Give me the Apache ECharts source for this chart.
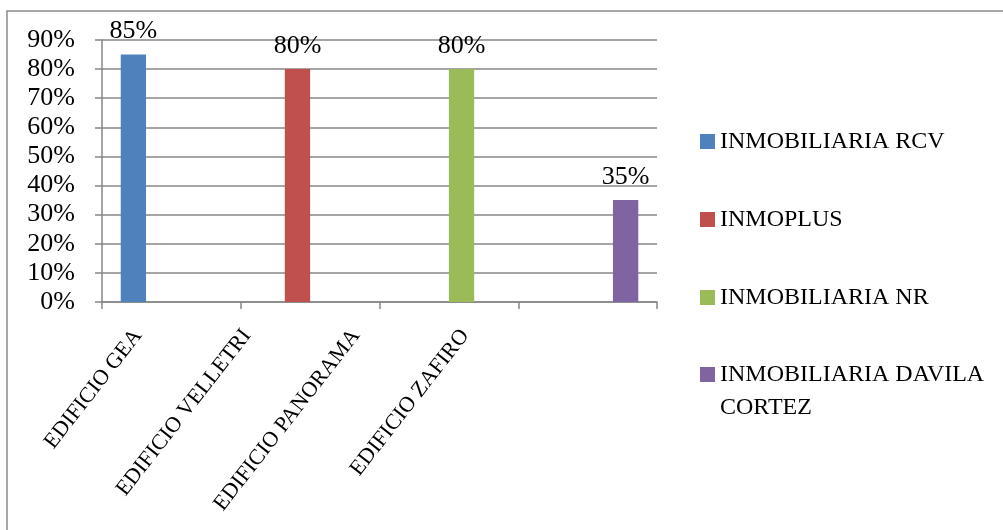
<!DOCTYPE html>
<html>
<head>
<meta charset="utf-8">
<script src="https://cdn.jsdelivr.net/npm/echarts@6/dist/echarts.min.js"></script>
<style>
  html, body { margin: 0; padding: 0; background: #fff; }
  #chart { width: 1003px; height: 530px; }
</style>
</head>
<body>
<div id="chart"></div>
<script>
// Buildings on the horizontal axis
const categories = ['EDIFICIO GEA', 'EDIFICIO VELLETRI', 'EDIFICIO PANORAMA', 'EDIFICIO ZAFIRO'];

// One series per real-estate agency (percent), each present at one building
const seriesNames = ['INMOBILIARIA RCV', 'INMOPLUS', 'INMOBILIARIA NR', 'INMOBILIARIA DAVILA CORTEZ'];
const rcvValues      = [85, null, null, null];
const inmoplusValues = [null, 80, null, null];
const nrValues       = [null, null, 80, null];
const davilaValues   = [null, null, null, 35];

// Value axis ticks (percent)
const yMin = 0;
const yMax = 90;
const yStep = 10;

const seriesValues = [rcvValues, inmoplusValues, nrValues, davilaValues];
const colors = ['#4F81BD', '#C0504D', '#9BBB59', '#8064A2'];
const FONT = 'Liberation Serif';
const GRID_COLOR = '#878787';

const chart = echarts.init(document.getElementById('chart'), null, { renderer: 'canvas' });

const legendText = {
  fontFamily: FONT,
  fontSize: 24,
  color: '#000',
  lineHeight: 33,
  width: 275,
  overflow: 'break'
};

const option = {
  backgroundColor: '#ffffff',
  animation: false,
  color: colors,
  textStyle: { fontFamily: FONT, color: '#000' },
  graphic: [{
    type: 'rect',
    silent: true,
    z: -10,
    shape: { x: 7, y: 11, width: 1200, height: 700 },
    style: { fill: 'none', stroke: '#8a8a8a', lineWidth: 1.5 }
  }],
  legend: [
    {
      // single-line entries
      orient: 'vertical',
      left: 700,
      top: 125,
      padding: 0,
      itemGap: 45,
      itemWidth: 15,
      itemHeight: 15,
      icon: 'rect',
      selectedMode: false,
      textStyle: legendText,
      data: seriesNames.slice(0, 3)
    },
    {
      // wrapped entry: first line level with the swatch
      orient: 'vertical',
      left: 700,
      top: 325,
      padding: 0,
      itemWidth: 15,
      itemHeight: 15,
      icon: 'rect',
      selectedMode: false,
      textStyle: legendText,
      formatter: name => '\n' + name,
      data: seriesNames.slice(3)
    }
  ],
  grid: [
    { left: 102, right: 346, top: 40, bottom: 228, containLabel: false },
    { left: 83.5, right: 483.5, top: 40, bottom: 228, containLabel: false }
  ],
  xAxis: [
    {
      type: 'category',
      gridIndex: 0,
      data: categories,
      axisLine: { show: true, lineStyle: { color: GRID_COLOR, width: 1.5 } },
      axisTick: { show: true, interval: 0, alignWithLabel: false, length: 7, lineStyle: { color: GRID_COLOR, width: 1.5 } },
      axisLabel: { show: false, interval: 0 },
      splitLine: { show: false }
    },
    {
      // building names, slanted under the plot
      type: 'category',
      gridIndex: 1,
      data: categories,
      axisLine: { show: false },
      axisTick: { show: false },
      splitLine: { show: false },
      axisLabel: {
        show: true,
        interval: 0,
        rotate: 52,
        margin: 30,
        fontFamily: FONT,
        fontSize: 22,
        color: '#000'
      }
    }
  ],
  yAxis: [
    {
      type: 'value',
      gridIndex: 0,
      min: yMin,
      max: yMax,
      interval: yStep,
      axisLine: { show: true, lineStyle: { color: GRID_COLOR, width: 1.5 } },
      axisTick: { show: true, length: 7, lineStyle: { color: GRID_COLOR, width: 1.5 } },
      splitLine: { show: true, lineStyle: { color: GRID_COLOR, width: 1.5 } },
      axisLabel: {
        margin: 27,
        fontFamily: FONT,
        fontSize: 26,
        color: '#000',
        formatter: '{value}%'
      }
    },
    {
      type: 'value',
      gridIndex: 1,
      show: false,
      min: yMin,
      max: yMax
    }
  ],
  series: seriesNames.map((name, i) => ({
    name: name,
    type: 'bar',
    xAxisIndex: 0,
    yAxisIndex: 0,
    data: seriesValues[i],
    barGap: 0,
    barCategoryGap: '27%',
    itemStyle: { color: colors[i] },
    label: {
      show: true,
      position: 'top',
      distance: 10,
      fontFamily: FONT,
      fontSize: 26,
      color: '#000',
      formatter: '{c}%'
    }
  }))
};

chart.setOption(option);
</script>
</body>
</html>
